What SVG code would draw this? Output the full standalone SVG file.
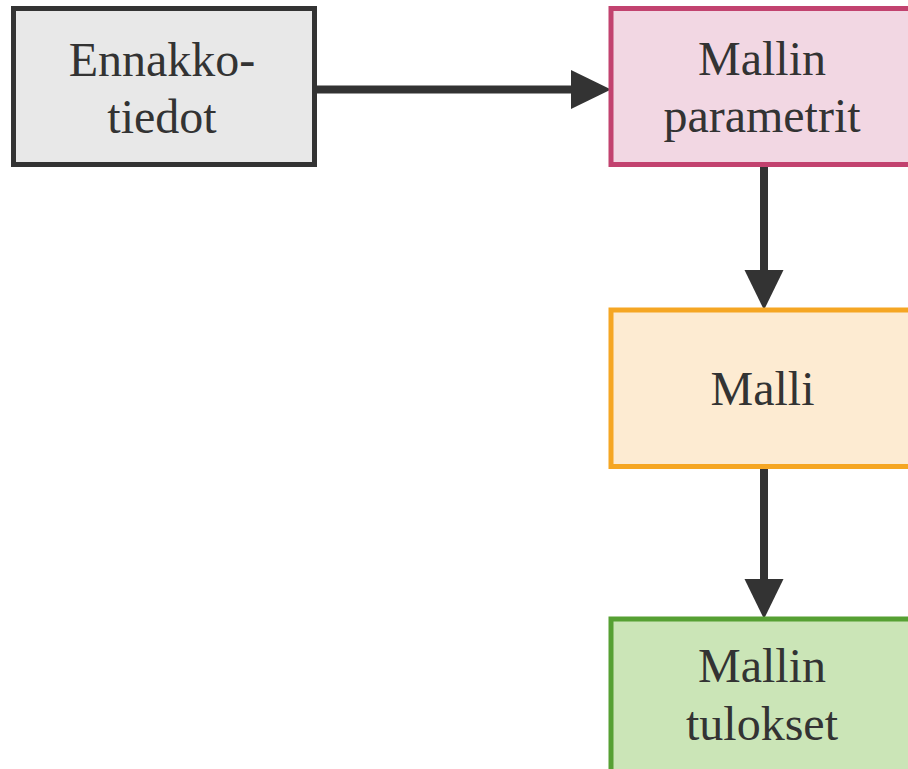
<svg xmlns="http://www.w3.org/2000/svg" width="908" height="769" viewBox="0 0 908 769">
  <style>
    .node rect { stroke-width: 5; }
    .label { font-size: 48px; fill: #333333; text-anchor: middle; }
    .edge { stroke: #333333; stroke-width: 8; fill: none; }
  </style>
  <defs>
    <marker id="arrowhead" markerUnits="userSpaceOnUse" markerWidth="60" markerHeight="60" refX="0" refY="0" orient="auto" overflow="visible" viewBox="-10 -30 60 60">
      <path d="M-2,-19.5 L38,0 L-2,19.5 Z" fill="#333333"/>
    </marker>
  </defs>
  <rect width="908" height="769" fill="#ffffff"/>

  <g id="connectors">
    <line class="edge" x1="317" y1="89.5" x2="573" y2="89.5" marker-end="url(#arrowhead)"/>
    <line class="edge" x1="764" y1="167" x2="764" y2="272" marker-end="url(#arrowhead)"/>
    <line class="edge" x1="764" y1="469" x2="764" y2="581" marker-end="url(#arrowhead)"/>
  </g>

  <g font-family="'Liberation Serif', 'DejaVu Serif', serif">
    <g id="ennakkotiedot" class="node">
      <rect x="13.5" y="8.5" width="301" height="156" fill="#e8e8e8" stroke="#333333"/>
      <text class="label" x="162" y="76">Ennakko-</text>
      <text class="label" x="162" y="133">tiedot</text>
    </g>

    <g id="mallin-parametrit" class="node">
      <rect x="611" y="8.5" width="306" height="156" fill="#f2d7e3" stroke="#c2426f"/>
      <text class="label" x="762" y="75">Mallin</text>
      <text class="label" x="762" y="132">parametrit</text>
    </g>

    <g id="malli" class="node">
      <rect x="611" y="310" width="306" height="156.5" fill="#fdebd2" stroke="#f5a623"/>
      <text class="label" x="762.5" y="405">Malli</text>
    </g>

    <g id="mallin-tulokset" class="node">
      <rect x="611" y="619" width="306" height="160" fill="#cbe5b7" stroke="#56a033"/>
      <text class="label" x="762" y="682">Mallin</text>
      <text class="label" x="762" y="740">tulokset</text>
    </g>
  </g>
</svg>
